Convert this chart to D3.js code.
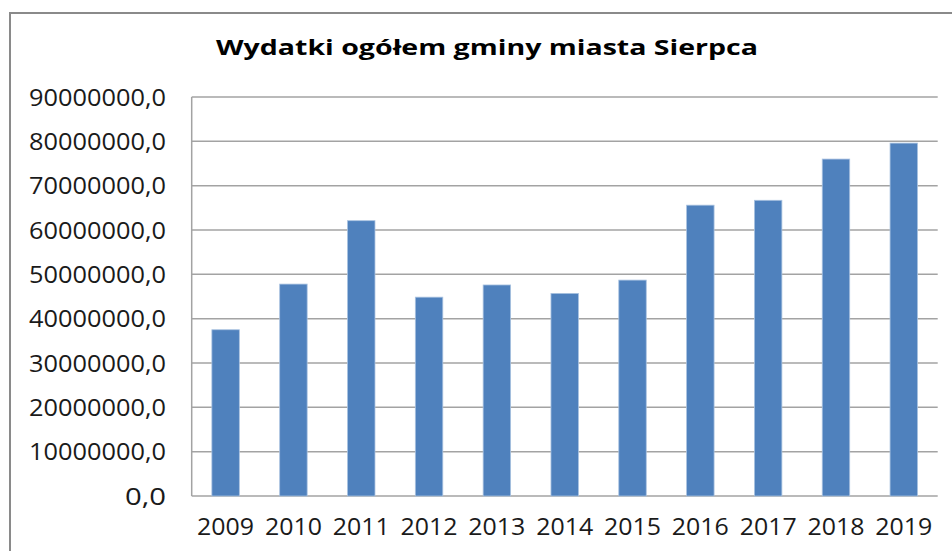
<!DOCTYPE html>
<html><head><meta charset="utf-8">
<script src="https://cdn.jsdelivr.net/npm/d3@7"></script>
<style>html,body{margin:0;padding:0;background:#fff;overflow:hidden}</style>
</head><body>
<svg id="c" width="952" height="551"></svg>
<script>
const title = "Wydatki ogółem gminy miasta Sierpca";
const years = ["2009","2010","2011","2012","2013","2014","2015","2016","2017","2018","2019"];
const values = [37500000, 47800000, 62100000, 44850000, 47600000, 45700000, 48700000, 65600000, 66700000, 76000000, 79600000];
const yTicks = [0,10000000,20000000,30000000,40000000,50000000,60000000,70000000,80000000,90000000];

const svg = d3.select("#c");
const font = "'Open Sans', 'DejaVu Sans', sans-serif";
// outer chart border
svg.append("rect").attr("x",10).attr("y",13).attr("width",1000).attr("height",600)
  .attr("fill","#fff").attr("stroke","#8a8a8a").attr("stroke-width",2);

const L = 191.7, R = 937.7, T = 97, B = 496;
const x = d3.scaleBand().domain(years).range([L,R]).paddingInner(0.595).paddingOuter(0.2975);
const y = d3.scaleLinear().domain([0,90000000]).range([B,T]);

// gridlines
svg.append("g").selectAll("line").data(yTicks).join("line")
  .attr("x1",L).attr("x2",R).attr("y1",d=>y(d)).attr("y2",d=>y(d))
  .attr("stroke","#a3a3a3").attr("stroke-width",1.5);
// y axis line
svg.append("line").attr("x1",L).attr("x2",L).attr("y1",T).attr("y2",B)
  .attr("stroke","#a3a3a3").attr("stroke-width",1.5);

// bars
svg.append("g").selectAll("rect").data(values).join("rect")
  .attr("x",(d,i)=>x(years[i])).attr("width",x.bandwidth())
  .attr("y",d=>y(d)).attr("height",d=>B-y(d))
  .attr("fill","#4f81bd").attr("stroke","#a9c2e0").attr("stroke-width",0.8);

// y tick labels
const fmt = d => d3.format("d")(d) + ",0";
svg.append("g").selectAll("text").data(yTicks).join("text")
  .attr("x",166).attr("y",d=>y(d)).attr("dy","0.36em")
  .attr("text-anchor","end").attr("font-family",font).attr("font-size",24)
  .attr("fill","#1a1a1a")
  .text(fmt)
  .each(function(d){ const w = fmt(d).length; this.setAttribute("textLength", (w*13.7).toFixed(1)); this.setAttribute("lengthAdjust","spacingAndGlyphs"); });

// x labels
svg.append("g").selectAll("text").data(years).join("text")
  .attr("x",d=>x(d)+x.bandwidth()/2).attr("y",535)
  .attr("text-anchor","middle").attr("font-family",font).attr("font-size",24)
  .attr("fill","#1a1a1a")
  .attr("textLength",57).attr("lengthAdjust","spacingAndGlyphs")
  .text(d=>d);

// title
svg.append("text").attr("x",487).attr("y",55).attr("text-anchor","middle")
  .attr("font-family",font).attr("font-weight","bold").attr("font-size",21.5)
  .attr("fill","#000").attr("textLength",542).attr("lengthAdjust","spacingAndGlyphs")
  .text(title);
</script>
</body></html>
